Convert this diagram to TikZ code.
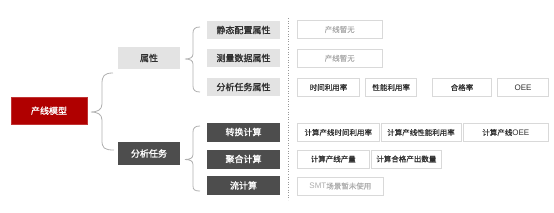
\documentclass[tikz,border=0pt]{standalone}
\usepackage{fontspec}
\setmainfont{Noto Sans CJK SC}
\newfontfamily\semib[FakeBold=1.2]{Noto Sans CJK SC}
\newfontfamily\regb[FakeBold=0.4]{Noto Sans CJK SC}
\newfontfamily\lat{Liberation Sans}
\newcommand{\latw}[1]{{\lat\fontsize{8}{9}\selectfont #1}}
\definecolor{redbox}{HTML}{B00000}
\definecolor{darkbox}{HTML}{4D4D4D}
\definecolor{lightbox}{HTML}{E3E3E3}
\definecolor{rborder}{HTML}{D9D9D9}
\definecolor{txt}{HTML}{2E2E2E}
\definecolor{muted}{HTML}{ADADAD}
\definecolor{bracec}{HTML}{B0B0B0}
\begin{document}
\begin{tikzpicture}[x=1pt,y=-1pt,
  base/.style={inner sep=0pt, anchor=center, font=\semib\fontsize{9}{10}\selectfont},
  rootbox/.style={base, fill=redbox, draw=redbox!80!white, text=white, minimum width=76.6pt, minimum height=27pt},
  lightlvl/.style={base, fill=lightbox, text=txt, minimum height=#1},
  darklvl/.style={base, fill=darkbox, text=white, minimum height=#1},
  rbox/.style={inner sep=0pt, anchor=center, draw=rborder, line width=0.6pt, fill=white, text=txt, font=\regb\fontsize{7.5}{9}\selectfont, minimum height=18pt, minimum width=#1},
  mbox/.style={rbox=#1, text=muted},
  bracel/.style={draw=bracec, line width=0.8pt}
]
\useasboundingbox (0,0) rectangle (554,212);
% root
\node[rootbox] (root) at (49,110.8) {产线模型};
% level 1
\node[lightlvl=22pt, minimum width=62pt] (attr) at (149,58) {属性};
\node[darklvl=23pt, minimum width=62pt] (task) at (149,153.5) {分析任务};
% level 2
\node[lightlvl=17.5pt, minimum width=73pt] (a1) at (243.5,30) {静态配置属性};
\node[lightlvl=17.5pt, minimum width=73pt] (a2) at (243.5,58) {测量数据属性};
\node[lightlvl=17.5pt, minimum width=73pt] (a3) at (243.5,87) {分析任务属性};
\node[darklvl=19pt, minimum width=73pt] (t1) at (243.5,132) {转换计算};
\node[darklvl=19pt, minimum width=73pt] (t2) at (243.5,159) {聚合计算};
\node[darklvl=19pt, minimum width=73pt] (t3) at (243.5,185.5) {流计算};
% braces
\coordinate (b1tip) at (91,112);
\draw[bracel] (113,73) .. controls (104,73) and (102,76) .. (102,84) -- (102,104)
  .. controls (102,110) and (97,112) .. (b1tip)
  .. controls (97,112) and (102,114) .. (102,120) -- (102,140)
  .. controls (102,148) and (104,150) .. (114,150);
\coordinate (b2tip) at (185,59);
\draw[bracel] (200,27) .. controls (195,27) and (193,29) .. (193,33) -- (193,54)
  .. controls (193,57.5) and (190,59) .. (b2tip)
  .. controls (190,59) and (193,60.5) .. (193,64) -- (193,86)
  .. controls (193,90) and (195,92) .. (200,92);
\coordinate (b3tip) at (185,159.5);
\draw[bracel] (200,126) .. controls (195,126) and (193,128) .. (193,132) -- (193,154.5)
  .. controls (193,158) and (190,159.5) .. (b3tip)
  .. controls (190,159.5) and (193,161) .. (193,164.5) -- (193,186)
  .. controls (193,190) and (195,191) .. (200,191);
% dotted separator
\coordinate (sepTop) at (288,18);
\coordinate (sepBot) at (288,200);
\draw[draw=gray!80, line width=0.6pt, dotted] (sepTop) -- (sepBot);
% right boxes
\node[mbox=84.5pt] (r1) at (339.75,29.5) {产线暂无};
\node[mbox=84.5pt] (r2) at (339.75,58.3) {产线暂无};
\node[rbox=62pt] (r3a) at (328.5,87.5) {时间利用率};
\node[rbox=51pt] (r3b) at (391.2,87.5) {性能利用率};
\node[rbox=59.4pt] (r3c) at (462,87.5) {合格率};
\node[rbox=50.6pt] (r3d) at (523,87.5) {\latw{OEE}};
\node[rbox=81.5pt] (r4a) at (338.25,132.5) {计算产线时间利用率};
\node[rbox=80pt] (r4b) at (421,132.5) {计算产线性能利用率};
\node[rbox=85pt] (r4c) at (505.8,132.5) {计算产线\latw{OEE}};
\node[rbox=71.5pt] (r5a) at (333.25,159) {计算产线产量};
\node[rbox=70.7pt] (r5b) at (406.35,159) {计算合格产出数量};
\node[mbox=85.8pt] (r6) at (340.4,186) {\latw{SMT}场景暂未使用};
\end{tikzpicture}
\end{document}
